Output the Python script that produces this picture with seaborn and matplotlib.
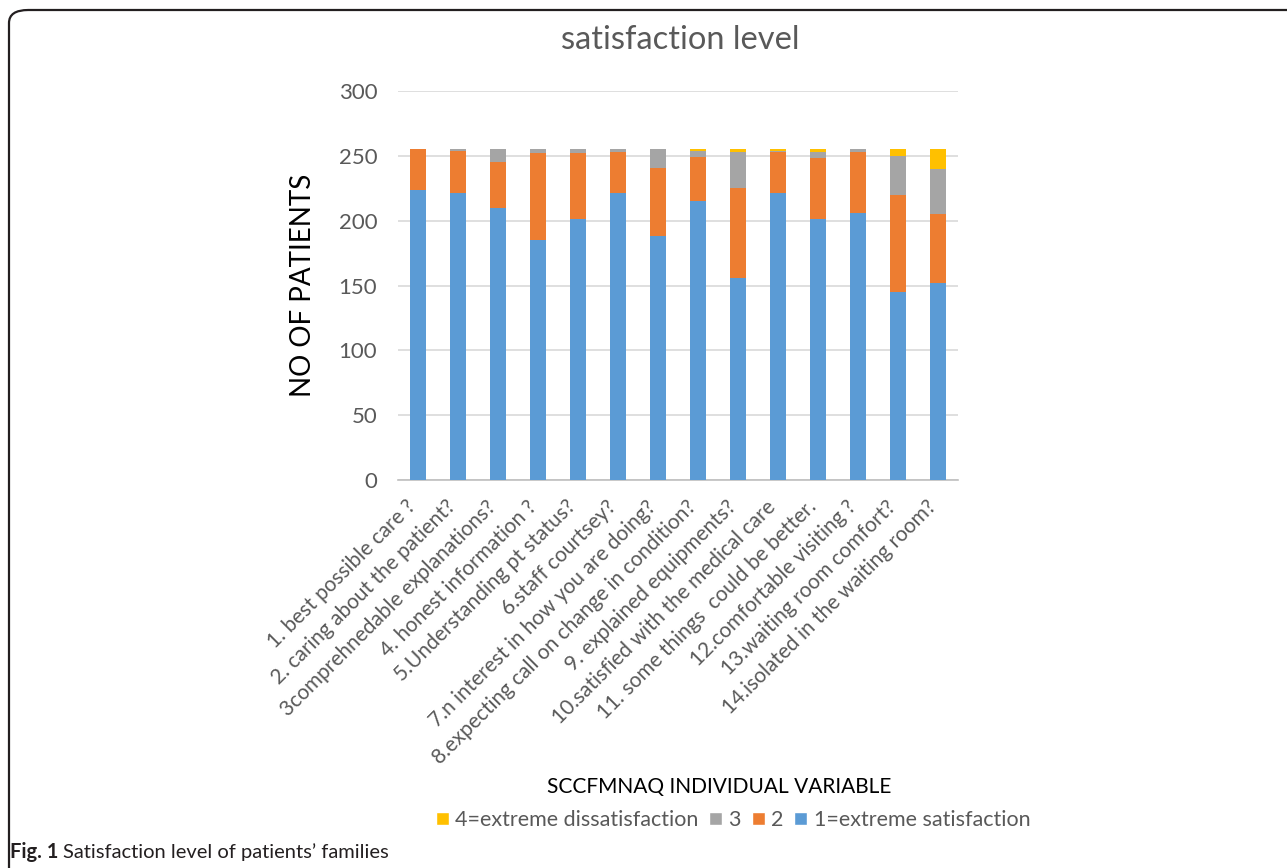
import matplotlib
matplotlib.use("Agg")
import matplotlib.pyplot as plt
import matplotlib.transforms as mtransforms
import seaborn as sns
import numpy as np
import pandas as pd
from matplotlib.patches import FancyBboxPatch, Patch

categories = [
    "1. best possible care ?",
    "2. caring about the patient?",
    "3comprehnedable explanations?",
    "4. honest information ?",
    "5.Understanding pt status?",
    "6.staff courtsey?",
    "7.n interest in how you are doing?",
    "8.expecting call on change in condition?",
    "9. explained equipments?",
    "10.satisfied with the medical care",
    "11. some things  could be better.",
    "12.comfortable visiting ?",
    "13.waiting room comfort?",
    "14.isolated in the waiting room?",
]
level1 = [224, 221, 210, 185, 201, 221, 188, 215, 156, 221, 201, 206, 145, 152]
level2 = [31, 33, 35, 67, 51, 32, 53, 34, 69, 32, 47, 47, 75, 53]
level3 = [0, 1, 10, 3, 3, 2, 14, 5, 28, 1, 5, 2, 30, 35]
level4 = [0, 0, 0, 0, 0, 0, 0, 1, 2, 1, 2, 0, 5, 15]
yticks = [0, 50, 100, 150, 200, 250, 300]
legend_labels = ["4=extreme dissatisfaction", "3", "2", "1=extreme satisfaction"]

c1, c2, c3, c4 = "#5B9BD5", "#ED7D31", "#A5A5A5", "#FFC000"

sns.set_theme(style="white")
plt.rcParams["font.family"] = ["Lato", "DejaVu Sans"]

df = pd.DataFrame({"cat": categories, "l1": level1, "l2": level2, "l3": level3, "l4": level4})
df["t1"] = df["l1"]
df["t2"] = df["t1"] + df["l2"]
df["t3"] = df["t2"] + df["l3"]
df["t4"] = df["t3"] + df["l4"]

fig = plt.figure(figsize=(12.87, 8.68), dpi=100)
W, H = 1287, 868
ax = fig.add_axes([398 / W, 1 - 480 / H, 560 / W, 389 / H])

for col, color in [("t4", c4), ("t3", c3), ("t2", c2), ("t1", c1)]:
    sns.barplot(data=df, x="cat", y=col, color=color, saturation=1, width=0.4,
                order=categories, ax=ax, zorder=3, edgecolor="none")

ax.set_ylim(0, 300)
ax.set_xlim(-0.5, len(categories) - 0.5)
ax.set_yticks(yticks)
ax.set_yticklabels([str(v) for v in yticks], fontsize=16, color="#595959")
ax.yaxis.grid(True, color="#D9D9D9", linewidth=1.2, zorder=0)
ax.set_axisbelow(True)
for s in ["top", "right", "left"]:
    ax.spines[s].set_visible(False)
ax.spines["bottom"].set_color("#BFBFBF")
ax.spines["bottom"].set_linewidth(1.2)
ax.tick_params(axis="y", length=0, pad=15)
ax.tick_params(axis="x", length=0, pad=17)
ax.set_xticks(range(len(categories)))
ax.set_xticklabels(categories, rotation=45, ha="right", va="center",
                   rotation_mode="anchor", fontsize=15, color="#595959")
offset = mtransforms.ScaledTranslation(-5 / 100, 0, fig.dpi_scale_trans)
for lab in ax.get_xticklabels():
    lab.set_transform(lab.get_transform() + offset)
ax.set_xlabel("")
ax.set_ylabel("NO OF PATIENTS", fontsize=20, color="black", labelpad=16)

fig.text(680 / W, 1 - 40 / H, "satisfaction level", fontsize=23.5, color="#595959",
         ha="center", va="center")
fig.text(719 / W, 1 - 787 / H, "SCCFMNAQ INDIVIDUAL VARIABLE", fontsize=15,
         color="black", ha="center", va="center")

handles = [Patch(facecolor=c4), Patch(facecolor=c3), Patch(facecolor=c2), Patch(facecolor=c1)]
fig.legend(handles, legend_labels, loc="center", bbox_to_anchor=(733 / W, 1 - 820 / H),
           ncol=4, frameon=False, fontsize=15.5, handlelength=0.6, handleheight=0.6,
           handletextpad=0.3, columnspacing=0.5, labelcolor="#595959")

t1 = fig.text(10 / W, 1 - 852 / H, "Fig. 1", fontsize=14.5, fontweight="bold", ha="left",
              va="center", color="#231F20")
fig.canvas.draw()
bb = t1.get_window_extent(renderer=fig.canvas.get_renderer())
fig.text((bb.x1 + 5) / W, 1 - 852 / H, "Satisfaction level of patients\u2019 families",
         fontsize=14.5, ha="left", va="center", color="#231F20")

frame = FancyBboxPatch((9 / W, -0.2), 1.5, (1 - 10 / H) + 0.2,
                       boxstyle="round,pad=0,rounding_size=0.015",
                       transform=fig.transFigure, fill=False, edgecolor="#231F20",
                       linewidth=1.6, clip_on=False)
fig.patches.append(frame)

fig.savefig("out.png", dpi=100)
